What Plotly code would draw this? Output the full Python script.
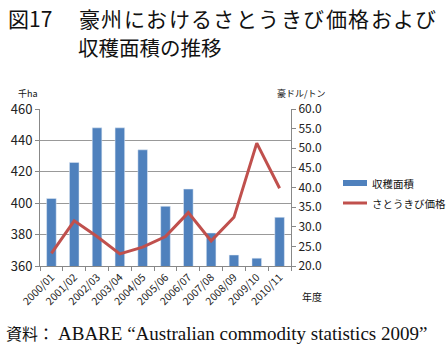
import plotly.graph_objects as go

years = ["2000/01", "2001/02", "2002/03", "2003/04", "2004/05", "2005/06",
         "2006/07", "2007/08", "2008/09", "2009/10", "2010/11"]
area = [403, 426, 448, 448, 434, 398, 409, 381, 367, 365, 391]
price = [23.2, 31.5, 27.5, 23.1, 24.8, 27.5, 33.6, 26.4, 32.4, 51.3, 39.8]

BLUE = "#4F81BD"
RED = "#C0504D"
W, H = 447, 351
L, R, T, B = 40, 291, 109, 266

def px(x):
    return (x - L) / (R - L)

def py(y):
    return (B - y) / (B - T)

SANS = "Noto Sans CJK JP, Noto Sans, sans-serif"
SERIF = "Liberation Serif, Noto Sans CJK JP, serif"

fig = go.Figure()
fig.add_trace(go.Bar(x=years, y=area, name="収穫面積", marker_color=BLUE,
                     width=0.42, yaxis="y"))
fig.add_trace(go.Scatter(x=years, y=price, name="さとうきび価格", mode="lines",
                         line=dict(color=RED, width=3), yaxis="y2"))

fig.update_layout(
    width=W, height=H,
    margin=dict(l=L, r=W - R, t=T, b=H - B),
    plot_bgcolor="white", paper_bgcolor="white",
    showlegend=False,
    font=dict(family=SANS, color="#222"),
    xaxis=dict(type="category", showgrid=False, showline=True, linecolor="#888",
               linewidth=1, ticks="outside", ticklen=4, tickcolor="#888",
               tickson="boundaries", tickangle=-45,
               tickfont=dict(size=10.5, family=SANS), range=[-0.5, 10.5]),
    yaxis=dict(range=[360, 460], dtick=20, showgrid=True, gridcolor="#999",
               gridwidth=1, showline=True, linecolor="#888", linewidth=1,
               ticks="outside", ticklen=4, tickcolor="#888",
               tickfont=dict(size=13, family=SANS), zeroline=False),
    yaxis2=dict(range=[20, 60], dtick=5, tickformat=".1f", overlaying="y",
                side="right", showgrid=False, showline=True, linecolor="#888",
                linewidth=1, ticks="outside", ticklen=4, tickcolor="#888",
                tickfont=dict(size=12, family=SANS), zeroline=False),
)

ann = []
def text(x, y, s, size, family=SANS, xanchor="left", yanchor="middle", color="#111"):
    ann.append(dict(x=px(x), y=py(y), xref="paper", yref="paper", text=s,
                    showarrow=False, xanchor=xanchor, yanchor=yanchor,
                    font=dict(size=size, family=family, color=color)))

text(6, 18, "図17", 21)
title1 = "豪州におけるさとうきび価格および"
for i, ch in enumerate(title1):
    text(78 + 22.45 * i + 11.2, 18, ch, 21, xanchor="center")
text(76, 47, "収穫面積の推移", 20.5)
text(40, 93, "千ha", 9, xanchor="right")
text(328, 93, "豪ドル/トン", 9, xanchor="right")
text(300, 296, "年度", 10)
text(4, 333, "資料：", 16)
text(56, 333, "ABARE “Australian commodity statistics 2009”", 19, family=SERIF)

# legend
text(370, 183, "収穫面積", 10.5)
text(370, 203, "さとうきび価格", 10.5)
shapes = [
    dict(type="rect", xref="paper", yref="paper", x0=px(343), x1=px(367),
         y0=py(180), y1=py(186), fillcolor=BLUE, line=dict(width=0)),
    dict(type="line", xref="paper", yref="paper", x0=px(343), x1=px(367),
         y0=py(203), y1=py(203), line=dict(color=RED, width=3)),
]
fig.update_layout(annotations=ann, shapes=shapes)
fig.write_html("out.html")
